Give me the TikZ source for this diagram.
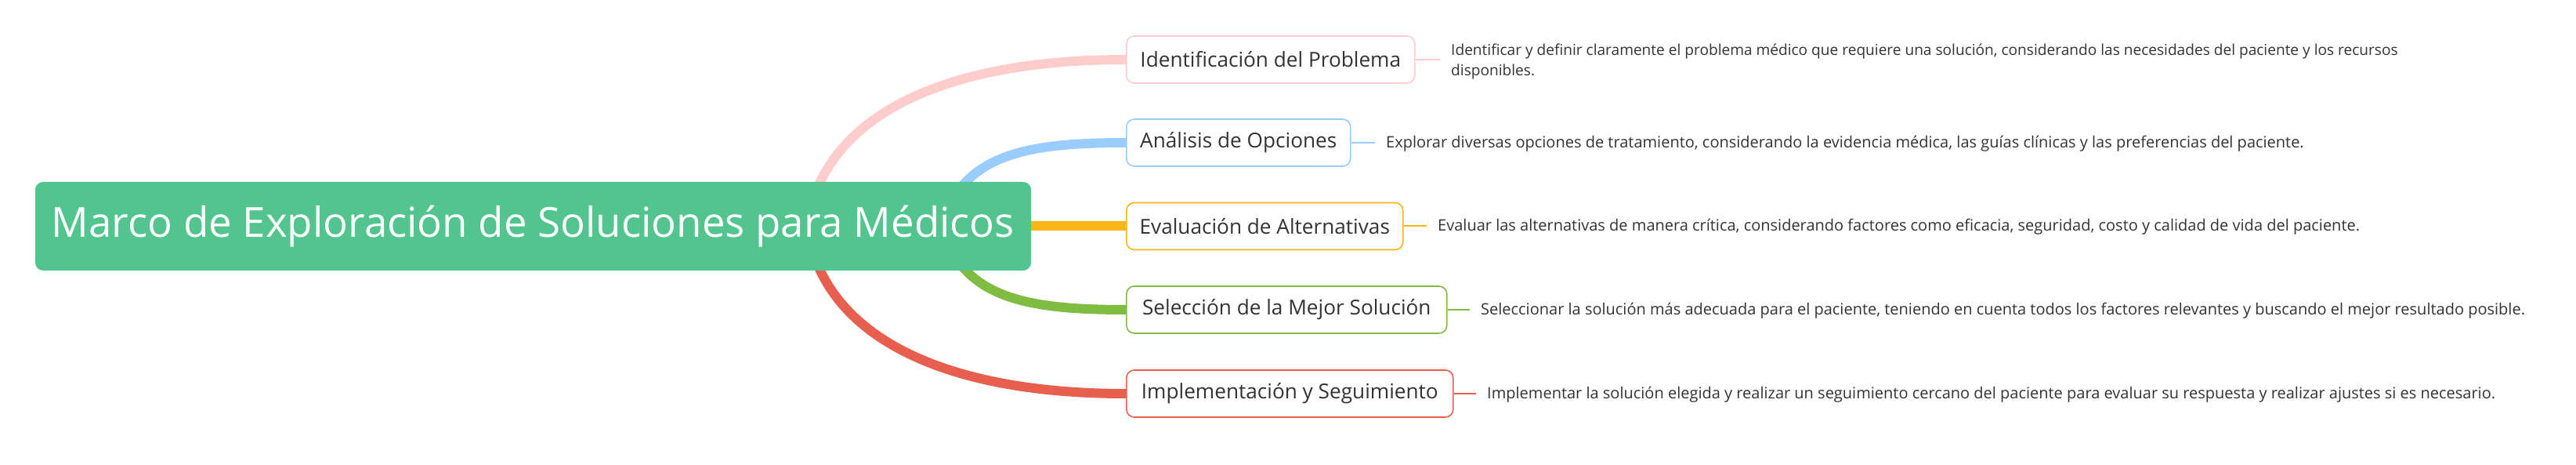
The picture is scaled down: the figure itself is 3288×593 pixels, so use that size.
\documentclass[tikz,border=0pt]{standalone}
\usepackage{fontspec}
\setmainfont{Open Sans}
\definecolor{rootG}{HTML}{52C48E}
\definecolor{txt}{HTML}{333333}
\definecolor{pinkC}{HTML}{FFCCCC}
\definecolor{blueC}{HTML}{9ACDFF}
\definecolor{yellC}{HTML}{FBB517}
\definecolor{greenC}{HTML}{80BC41}
\definecolor{redC}{HTML}{E85F4F}
\pgfdeclarelayer{bg}
\pgfsetlayers{bg,main}
\tikzset{
  rootbox/.style={fill=rootG, draw=none, rounded corners=10pt, text=white,
    minimum width=1271pt, minimum height=113pt, inner sep=0pt,
    font=\fontsize{52.8}{60}\selectfont},
  branchbox/.style={fill=white, line width=1.6pt, rounded corners=10pt, text=txt,
    minimum height=60pt, inner sep=0pt, anchor=west,
    font=\fontsize{26.2}{30}\selectfont},
  desctext/.style={text=txt, inner xsep=14pt, inner ysep=0pt, anchor=west, align=left,
    font=\fontsize{20}{26}\selectfont},
  curve/.style={line width=12pt},
  link/.style={line width=2pt}
}
\begin{document}
\begin{tikzpicture}[x=1pt,y=-1pt]
\useasboundingbox (0,0) rectangle (3288,593);
\node[rootbox] (root) at (680.5,288.5) {Marco de Exploración de Soluciones para Médicos};

\node[branchbox, draw=pinkC, minimum width=368pt] (b1) at (1437,76) {Identificación del Problema};
\node[branchbox, draw=blueC, minimum width=286pt] (b2) at (1437,182) {Análisis de Opciones};
\node[branchbox, draw=yellC, minimum width=353pt] (b3) at (1437,288.5) {Evaluación de Alternativas};
\node[branchbox, draw=greenC, minimum width=409pt] (b4) at (1437,395) {Selección de la Mejor Solución};
\node[branchbox, draw=redC, minimum width=417pt] (b5) at (1437,502) {Implementación y Seguimiento};

\node[desctext, font=\fontsize{19.1}{26}\selectfont] (d1) at (1838,78.5) {Identificar y definir claramente el problema médico que requiere una solución, considerando las necesidades del paciente y los recursos\\disponibles.};
\node[desctext] (d2) at (1755,183) {Explorar diversas opciones de tratamiento, considerando la evidencia médica, las guías clínicas y las preferencias del paciente.};
\node[desctext] (d3) at (1821,289.5) {Evaluar las alternativas de manera crítica, considerando factores como eficacia, seguridad, costo y calidad de vida del paciente.};
\node[desctext] (d4) at (1876,396) {Seleccionar la solución más adecuada para el paciente, teniendo en cuenta todos los factores relevantes y buscando el mejor resultado posible.};
\node[desctext] (d5) at (1884,503) {Implementar la solución elegida y realizar un seguimiento cercano del paciente para evaluar su respuesta y realizar ajustes si es necesario.};

\coordinate (o1) at (1030,288.5);
\coordinate (o2) at (1200,288.5);

\begin{pgfonlayer}{bg}
\draw[curve, pinkC] (o1) .. controls (1050,150) and (1200,76) .. (b1.west);
\draw[curve, redC] (o1) .. controls (1050,427) and (1200,502) .. (b5.west);
\draw[curve, blueC] (o2) .. controls (1230,200) and (1300,182) .. (b2.west);
\draw[curve, greenC] (o2) .. controls (1230,377) and (1300,395) .. (b4.west);
\draw[curve, yellC] (root.east) -- (b3.west);
\end{pgfonlayer}

\draw[link, pinkC] (b1.east) -- (b1.east -| d1.west);
\draw[link, blueC] (b2.east) -- (b2.east -| d2.west);
\draw[link, yellC] (b3.east) -- (b3.east -| d3.west);
\draw[link, greenC] (b4.east) -- (b4.east -| d4.west);
\draw[link, redC] (b5.east) -- (b5.east -| d5.west);
\end{tikzpicture}
\end{document}
